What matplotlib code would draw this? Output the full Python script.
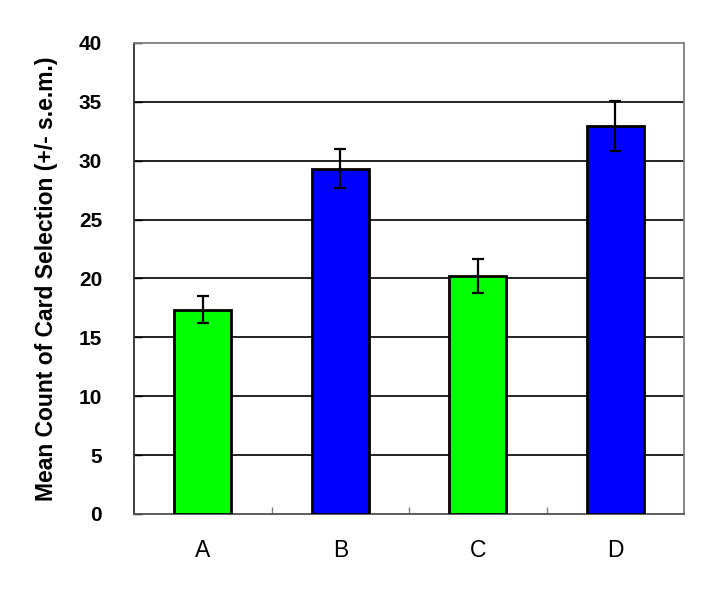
import numpy as np
import matplotlib.pyplot as plt
from matplotlib.ticker import FixedLocator

categories = ["A", "B", "C", "D"]
means = [17.35, 29.33, 20.2, 32.95]
sem = [1.17, 1.64, 1.45, 2.12]
colors = ["#00ff00", "#0000ff", "#00ff00", "#0000ff"]

plt.rcParams['font.family'] = ['Liberation Sans', 'DejaVu Sans']

fig = plt.figure(figsize=(7.09, 5.91), dpi=100)
ax = fig.add_axes([0.189, 0.1303, 0.776, 0.797])

x = np.arange(len(categories))
ax.bar(x, means, width=0.415, color=colors, edgecolor="black", linewidth=2, zorder=3)
ax.errorbar(x, means, yerr=sem, fmt="none", ecolor="black", elinewidth=1.6,
            capsize=4.5, capthick=1.6, zorder=4)

ax.set_xlim(-0.5, 3.5)
ax.set_ylim(0, 40)
ax.set_yticks(np.arange(0, 41, 5))
ax.set_xticks(x)
ax.set_xticklabels(categories, fontsize=16.5)
ax.xaxis.set_minor_locator(FixedLocator([0.5, 1.5, 2.5]))

for v in range(5, 40, 5):
    ax.axhline(v, color="black", linewidth=1.2, zorder=1)

for lab in ax.get_yticklabels():
    lab.set_fontweight("bold")
    lab.set_fontsize(15)

ax.tick_params(axis="y", direction="in", length=6, width=1, pad=23)
ax.tick_params(axis="x", which="major", length=0, pad=18)
ax.tick_params(axis="x", which="minor", direction="in", length=5, width=1, color="#808080")

ax.spines["left"].set_color("#303030")
ax.spines["left"].set_linewidth(1.3)
ax.spines["bottom"].set_color("#505050")
ax.spines["bottom"].set_linewidth(1.3)
for s in ["top", "right"]:
    ax.spines[s].set_color("#808080")
    ax.spines[s].set_linewidth(1.3)

ax.set_ylabel("Mean Count of Card Selection (+/- s.e.m.)", fontsize=16.5,
              fontweight="bold", labelpad=15)

fig.savefig("out.png", dpi=100)
